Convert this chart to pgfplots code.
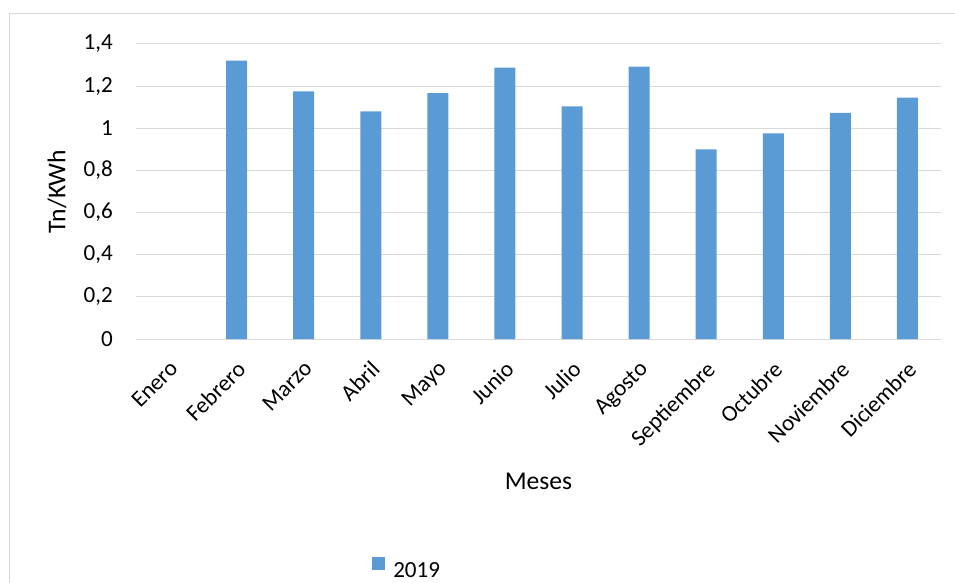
\documentclass[border=0pt]{standalone}
\usepackage{pgfplots}
\pgfplotsset{compat=1.18}
\usepackage{fontspec}
\setmainfont{Carlito}
\definecolor{barblue}{HTML}{5B9BD5}
\definecolor{gridgray}{HTML}{D9D9D9}
\begin{document}
\begin{tikzpicture}
\useasboundingbox (0,0) rectangle (716.25pt,436.5pt);
\draw[gridgray, line width=0.75pt] (6.75pt,-20pt) rectangle (740pt,426pt);
\begin{axis}[
  at={(102pt,182.25pt)}, anchor=south west,
  scale only axis, width=603.75pt, height=221.25pt,
  ybar, bar width=0.313,
  xmin=-0.5, xmax=11.5, ymin=0, ymax=1.4,
  xtick={0,1,2,3,4,5,6,7,8,9,10,11},
  xticklabels={Enero,Febrero,Marzo,Abril,Mayo,Junio,Julio,Agosto,Septiembre,Octubre,Noviembre,Diciembre},
  ytick={0,0.2,0.4,0.6,0.8,1,1.2,1.4},
  ymajorgrids, grid style={gridgray, line width=0.75pt},
  axis line style={draw=none},
  major tick length=0pt,
  tick label style={font=\fontsize{17.3}{20}\selectfont},
  /pgf/number format/assume math mode=true,
  /pgf/number format/use comma,
  /pgf/number format/fixed,
  yticklabel style={anchor=east, inner sep=0pt, xshift=-17.25pt},
  xticklabel style={yshift=-15.25pt, xshift=-0.75pt, rotate=45, anchor=north east, inner sep=0pt},
  xlabel={Meses}, ylabel={Tn/KWh},
  label style={font=\fontsize{19.2}{22}\selectfont},
  xlabel style={at={(axis description cs:0.5,-0.4814)}, anchor=center},
  ylabel style={at={(axis description cs:-0.0981,0.5)}, anchor=center},
  legend style={at={(axis description cs:0.2932,-0.776)}, anchor=west, draw=none, fill=none,
    inner sep=0pt, nodes={inner sep=0pt}, font=\fontsize{17.3}{20}\selectfont},
  legend image code/.code={\fill[barblue] (0pt,0.6pt) rectangle (9.75pt,10.35pt);},
]
\addplot[fill=barblue, draw=none] coordinates {
  (1,1.321) (2,1.175) (3,1.080) (4,1.167) (5,1.288) (6,1.104)
  (7,1.293) (8,0.900) (9,0.976) (10,1.073) (11,1.146)
};
\addlegendentry{\hspace{6pt}2019}
\end{axis}
\end{tikzpicture}
\end{document}
